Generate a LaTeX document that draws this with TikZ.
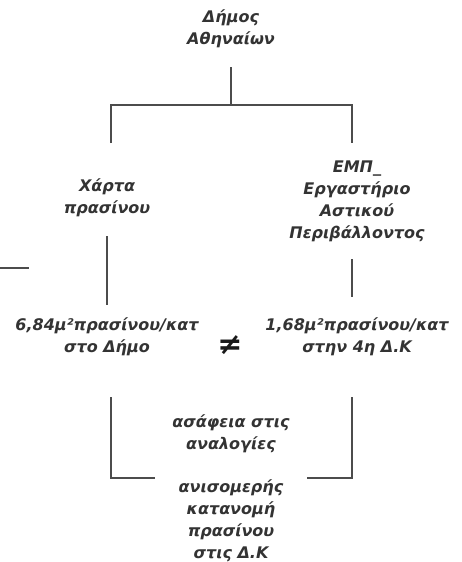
\documentclass[tikz,border=0pt]{standalone}
\usepackage{fontspec}
\setmainfont{DejaVu Sans}
\begin{document}
\begin{tikzpicture}[x=1pt,y=-1pt,
  txt/.style={text=black!80, font=\fontsize{16}{22}\selectfont\bfseries\itshape, align=center, inner sep=0pt},
  ln/.style={draw=black!70, line width=1.1pt}]
\useasboundingbox (0,0) rectangle (461,562);
\node[txt] (dimos) at (231,29) {Δήμος\\Αθηναίων};
\node[txt] (xarta) at (107,198) {Χάρτα\\πρασίνου};
\node[txt] (emp) at (357,201) {ΕΜΠ\_\\Εργαστήριο\\Αστικού\\Περιβάλλοντος};
\node[txt] (left) at (107,337) {6,84μ²πρασίνου/κατ\\στο Δήμο};
\node[txt] (right) at (357,337) {1,68μ²πρασίνου/κατ\\στην 4η Δ.Κ};
\node[txt, font=\fontsize{30}{30}\selectfont\bfseries\itshape, text=black!90] (neq) at (230,345) {≠};
\node[txt] (asaf) at (231,434) {ασάφεια στις\\αναλογίες};
\node[txt] (anis) at (231,521) {ανισομερής\\κατανομή\\πρασίνου\\στις Δ.Κ};
% connectors
\coordinate (t0) at (231,67);
\coordinate (t1) at (231,105);
\coordinate (l0) at (111,105);
\coordinate (l1) at (111,143);
\coordinate (r0) at (352,105);
\coordinate (r1) at (352,143);
\draw[ln] (t0) -- (t1);
\draw[ln] (l1) -- (l0) -- (r0) -- (r1);
\coordinate (s0) at (0,268);
\coordinate (s1) at (29,268);
\draw[ln] (s0) -- (s1);
\coordinate (m0) at (107,236);
\coordinate (m1) at (107,305);
\draw[ln] (m0) -- (m1);
\coordinate (n0) at (352,259);
\coordinate (n1) at (352,297);
\draw[ln] (n0) -- (n1);
\coordinate (b0) at (111,397);
\coordinate (b1) at (111,478);
\coordinate (b2) at (155,478);
\draw[ln] (b0) -- (b1) -- (b2);
\coordinate (c0) at (352,397);
\coordinate (c1) at (352,478);
\coordinate (c2) at (307,478);
\draw[ln] (c0) -- (c1) -- (c2);
\end{tikzpicture}
\end{document}
